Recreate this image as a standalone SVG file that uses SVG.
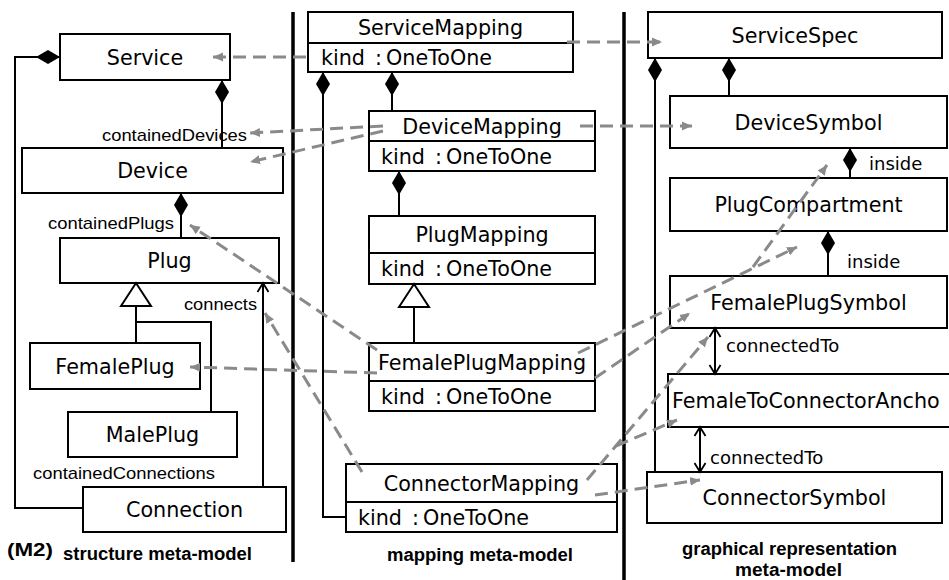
<svg xmlns="http://www.w3.org/2000/svg" width="949" height="580" viewBox="0 0 949 580">
<style>
.box{fill:#fff;stroke:#000;stroke-width:2}
.dv{stroke:#000;stroke-width:2}
.nt{font-family:"DejaVu Sans",Verdana,sans-serif;font-size:20.7px;fill:#000;text-anchor:middle}
.at{font-family:"DejaVu Sans",Verdana,sans-serif;font-size:20.7px;fill:#000}
.lb{font-family:"Liberation Sans",Arial,sans-serif;font-size:17px;fill:#000}
.rl{font-family:"DejaVu Sans",Verdana,sans-serif;font-size:18px;fill:#000}
.tt{font-family:"Liberation Sans",Arial,sans-serif;font-size:18px;font-weight:bold;fill:#000}
.sep{stroke:#000;stroke-width:3.5}
.ln{fill:none;stroke:#000;stroke-width:2}
.dash{fill:none;stroke:#8a8a8a;stroke-width:3;stroke-dasharray:13 7}
</style>
<defs>
<marker id="dia" markerUnits="userSpaceOnUse" markerWidth="26" markerHeight="16" viewBox="0 -8 26 16" refX="0" refY="0" orient="auto"><path d="M0,0 L12,-7 L24,0 L12,7 z" fill="#000"/></marker>
<marker id="tri" markerUnits="userSpaceOnUse" markerWidth="27" markerHeight="34" viewBox="-2 -17 27 34" refX="23" refY="0" orient="auto"><path d="M0,-15 L23,0 L0,15 z" fill="#fff" stroke="#000" stroke-width="2"/></marker>
<marker id="open" markerUnits="userSpaceOnUse" markerWidth="12" markerHeight="14" viewBox="-1 -7 12 14" refX="9" refY="0" orient="auto-start-reverse"><path d="M0,-5.5 L9,0 L0,5.5" fill="none" stroke="#000" stroke-width="1.8"/></marker>
<marker id="arr" markerUnits="userSpaceOnUse" markerWidth="11" markerHeight="10" viewBox="0 -5 11 10" refX="10" refY="0" orient="auto"><path d="M0,-4.5 L10,0 L0,4.5 z" fill="#8a8a8a"/></marker>
</defs>
<rect width="949" height="580" fill="#fff"/>

<g id="separators">
<line class="sep" x1="293" y1="12" x2="293" y2="562"/>
<line class="sep" x1="624" y1="12" x2="624" y2="580"/>
</g>

<g id="Service"><rect class="box" x="60" y="34" width="170" height="46"/><text class="nt" x="145" y="64.5">Service</text></g>
<g id="Device"><rect class="box" x="22" y="148" width="261" height="45"/><text class="nt" x="152.5" y="178">Device</text></g>
<g id="Plug"><rect class="box" x="60" y="238" width="219" height="45"/><text class="nt" x="169.5" y="268">Plug</text></g>
<g id="FemalePlug"><rect class="box" x="30" y="343" width="170" height="46"/><text class="nt" x="115" y="373.5">FemalePlug</text></g>
<g id="MalePlug"><rect class="box" x="68" y="412" width="169" height="45"/><text class="nt" x="152.5" y="442">MalePlug</text></g>
<g id="Connection"><rect class="box" x="83" y="487" width="203" height="45"/><text class="nt" x="184.5" y="517">Connection</text></g>

<g id="ServiceMapping"><rect class="box" x="308" y="12" width="265" height="60"/><line class="dv" x1="308" y1="43" x2="573" y2="43"/><text class="nt" x="440.5" y="35">ServiceMapping</text><text class="at" y="65"><tspan x="321">kind</tspan><tspan x="375">:</tspan><tspan x="386">OneToOne</tspan></text></g>
<g id="DeviceMapping"><rect class="box" x="369" y="111" width="226" height="60"/><line class="dv" x1="369" y1="141" x2="595" y2="141"/><text class="nt" x="482" y="133.5">DeviceMapping</text><text class="at" y="163.5"><tspan x="381">kind</tspan><tspan x="435">:</tspan><tspan x="446">OneToOne</tspan></text></g>
<g id="PlugMapping"><rect class="box" x="369" y="216" width="226" height="68"/><line class="dv" x1="369" y1="253" x2="595" y2="253"/><text class="nt" x="482" y="242">PlugMapping</text><text class="at" y="276"><tspan x="381">kind</tspan><tspan x="435">:</tspan><tspan x="446">OneToOne</tspan></text></g>
<g id="FemalePlugMapping"><rect class="box" x="369" y="343" width="226" height="68"/><line class="dv" x1="369" y1="381" x2="595" y2="381"/><text class="nt" x="482" y="369.5">FemalePlugMapping</text><text class="at" y="403.5"><tspan x="381">kind</tspan><tspan x="435">:</tspan><tspan x="446">OneToOne</tspan></text></g>
<g id="ConnectorMapping"><rect class="box" x="346" y="464" width="271" height="68"/><line class="dv" x1="346" y1="502" x2="617" y2="502"/><text class="nt" x="481.5" y="490.5">ConnectorMapping</text><text class="at" y="524.5"><tspan x="358">kind</tspan><tspan x="412">:</tspan><tspan x="423">OneToOne</tspan></text></g>

<g id="ServiceSpec"><rect class="box" x="648" y="12" width="294" height="46"/><text class="nt" x="795" y="42.5">ServiceSpec</text></g>
<g id="DeviceSymbol"><rect class="box" x="670" y="96" width="277" height="52"/><text class="nt" x="808.5" y="129.5">DeviceSymbol</text></g>
<g id="PlugCompartment"><rect class="box" x="670" y="178" width="277" height="53"/><text class="nt" x="808.5" y="212">PlugCompartment</text></g>
<g id="FemalePlugSymbol"><rect class="box" x="670" y="276" width="277" height="52"/><text class="nt" x="808.5" y="309.5">FemalePlugSymbol</text></g>
<g id="FemaleToConnectorAncho"><rect class="box" x="668" y="374" width="300" height="53"/><text class="at" x="672" y="408">FemaleToConnectorAncho</text></g>
<g id="ConnectorSymbol"><rect class="box" x="647" y="472" width="295" height="51"/><text class="nt" x="794.5" y="505">ConnectorSymbol</text></g>

<g id="connectors">
<path class="ln" d="M60,57 H15 V508 H83" marker-start="url(#dia)"/>
<path class="ln" d="M222,80 V148" marker-start="url(#dia)"/>
<path class="ln" d="M181,193 V238" marker-start="url(#dia)"/>
<path class="ln" d="M136,343 V283" marker-end="url(#tri)"/>
<path class="ln" d="M136,322 H211 V412"/>
<path class="ln" d="M263,487 V283" marker-end="url(#open)"/>
<path class="ln" d="M323,72 V517 H346" marker-start="url(#dia)"/>
<path class="ln" d="M392,72 V111" marker-start="url(#dia)"/>
<path class="ln" d="M399,171 V216" marker-start="url(#dia)"/>
<path class="ln" d="M414,343 V284" marker-end="url(#tri)"/>
<path class="ln" d="M655,58 V472" marker-start="url(#dia)"/>
<path class="ln" d="M729,58 V96" marker-start="url(#dia)"/>
<path class="ln" d="M850,148 V178" marker-start="url(#dia)"/>
<path class="ln" d="M828,231 V276" marker-start="url(#dia)"/>
<path class="ln" d="M715,328 V374" marker-start="url(#open)" marker-end="url(#open)"/>
<path class="ln" d="M700,427 V472" marker-start="url(#open)" marker-end="url(#open)"/>

<path class="dash" d="M306,57 L213,57" marker-end="url(#arr)"/>
<path class="dash" d="M567,42 L662,42" marker-end="url(#arr)"/>
<path class="dash" d="M383,126 L250,133" marker-end="url(#arr)"/>
<path class="dash" d="M383,131 L250,162" marker-end="url(#arr)"/>
<path class="dash" d="M580,126 L692,126" marker-end="url(#arr)"/>
<path class="dash" d="M377,350 L190,225" marker-end="url(#arr)"/>
<path class="dash" d="M377,373 L190,367" marker-end="url(#arr)"/>
<path class="dash" d="M578,353 L797,247" marker-end="url(#arr)"/>
<path class="dash" d="M753,267 L827,165" marker-end="url(#arr)"/>
<path class="dash" d="M595,378 L690,313" marker-end="url(#arr)"/>
<path class="dash" d="M362,472 L265,313" marker-end="url(#arr)"/>
<path class="dash" d="M587,480 L708,337" marker-end="url(#arr)"/>
<path class="dash" d="M616,446 L677,420" marker-end="url(#arr)"/>
<path class="dash" d="M595,495 L700,480" marker-end="url(#arr)"/>
</g>

<g id="labels">
<text class="lb" x="102" y="141" textLength="145" lengthAdjust="spacingAndGlyphs">containedDevices</text>
<text class="lb" x="48" y="229" textLength="126" lengthAdjust="spacingAndGlyphs">containedPlugs</text>
<text class="lb" x="184" y="310" textLength="73" lengthAdjust="spacingAndGlyphs">connects</text>
<text class="lb" x="33" y="479" textLength="182" lengthAdjust="spacingAndGlyphs">containedConnections</text>
<text class="rl" x="869" y="170">inside</text>
<text class="rl" x="847" y="268">inside</text>
<text class="rl" x="726" y="352">connectedTo</text>
<text class="rl" x="710" y="464">connectedTo</text>
<text class="tt" x="7" y="556" textLength="46" lengthAdjust="spacingAndGlyphs">(M2)</text>
<text class="tt" x="63" y="560" textLength="189" lengthAdjust="spacingAndGlyphs">structure meta-model</text>
<text class="tt" x="387" y="561" textLength="186" lengthAdjust="spacingAndGlyphs">mapping meta-model</text>
<text class="tt" x="682" y="555" textLength="215" lengthAdjust="spacingAndGlyphs">graphical representation</text>
<text class="tt" x="735" y="576" textLength="107" lengthAdjust="spacingAndGlyphs">meta-model</text>
</g>
</svg>
